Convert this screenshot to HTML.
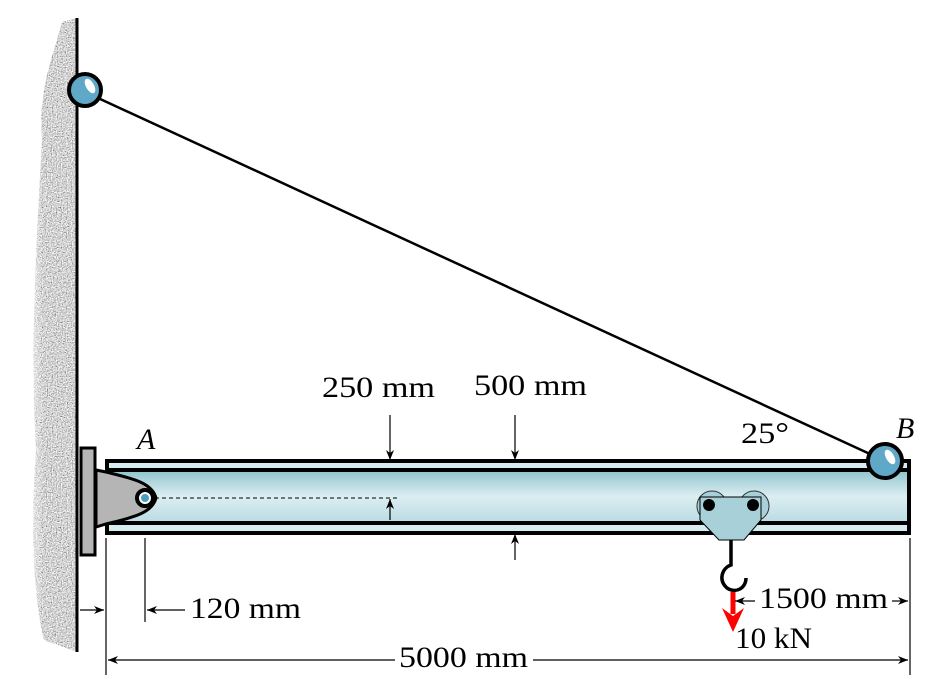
<!DOCTYPE html>
<html><head><style>body{margin:0;background:#fff}svg{display:block}text{font-family:"Liberation Serif",serif;font-size:30px;fill:#000}</style></head><body>
<svg width="928" height="688" viewBox="0 0 928 688" xmlns="http://www.w3.org/2000/svg">
<defs>
<linearGradient id="bg" x1="0" y1="0" x2="0" y2="1">
<stop offset="0" stop-color="#8ec3cd"/><stop offset="0.5" stop-color="#dceef2"/><stop offset="1" stop-color="#b9dbe2"/></linearGradient>
<linearGradient id="wg" x1="0" y1="0" x2="1" y2="0">
<stop offset="0" stop-color="#fff" stop-opacity="0.7"/><stop offset="0.3" stop-color="#fff" stop-opacity="0"/></linearGradient>
<filter id="n" x="0" y="0" width="100%" height="100%"><feTurbulence type="fractalNoise" baseFrequency="0.8" numOctaves="2" seed="3"/><feColorMatrix values="1.1 1.1 0 0 -0.45 1.1 1.1 0 0 -0.45 1.1 1.1 0 0 -0.45 0 0 0 0 1"/></filter>
<clipPath id="wc"><path d="M77,18 L62,22 C52,60 38,90 42,140 C36,250 30,350 36,450 C30,530 34,600 44,640 L77,652Z"/></clipPath>
<marker id="ah" markerWidth="10" markerHeight="8" refX="10" refY="4" orient="auto" markerUnits="userSpaceOnUse"><path d="M0,0 L10,4 L0,8 L3,4Z" fill="#000"/></marker>
</defs>
<g clip-path="url(#wc)">
<rect x="28" y="15" width="52" height="640" filter="url(#n)"/>
<rect x="28" y="15" width="52" height="640" fill="url(#wg)"/>
</g>
<line x1="77" y1="18" x2="77" y2="652" stroke="#000" stroke-width="3"/>
<line x1="85" y1="92" x2="883" y2="460" stroke="#000" stroke-width="2.5"/>
<rect x="107" y="461" width="802" height="72" fill="#d6ecf0" stroke="#000" stroke-width="4"/>
<rect x="107" y="470" width="802" height="53" fill="url(#bg)" stroke="#000" stroke-width="4"/>
<rect x="81" y="448" width="14" height="107" fill="#b5b5b5" stroke="#000" stroke-width="3"/>
<path d="M96,470 L106,472 C130,478 152,482 156,498 C152,514 130,518 106,524 L96,527Z" fill="#b5b5b5" stroke="#000" stroke-width="3"/>
<circle cx="145" cy="498" r="8" fill="#fff" stroke="#000" stroke-width="4"/>
<circle cx="145" cy="498" r="4" fill="#4a9ec0"/>
<line x1="155" y1="498" x2="400" y2="498" stroke="#000" stroke-width="1" stroke-dasharray="4,3"/>
<circle cx="712" cy="506" r="15" fill="#a8d0d8" stroke="#333" stroke-width="1"/>
<circle cx="754" cy="506" r="15" fill="#a8d0d8" stroke="#333" stroke-width="1"/>
<path d="M700,497 L761,497 L761,520 L744,540 L719,540 L700,520Z" fill="#a8d0d8" stroke="#000" stroke-width="1"/>
<circle cx="709" cy="505" r="6" fill="#000"/><circle cx="753" cy="505" r="6" fill="#000"/>
<path d="M731,540 L731,565 C722,568 718,580 727,588 C736,594 746,588 746,578" fill="none" stroke="#000" stroke-width="3.5"/>
<line x1="733" y1="592" x2="733" y2="614" stroke="#f00" stroke-width="5"/>
<path d="M722,608 L733,632 L744,608 L733,616Z" fill="#f00"/>
<circle cx="85" cy="90" r="16" fill="#5fa8c8" stroke="#000" stroke-width="4"/>
<ellipse cx="90" cy="86" rx="4" ry="8" fill="#fff" transform="rotate(-30 90 86)"/>
<circle cx="885" cy="461" r="17" fill="#5fa8c8" stroke="#000" stroke-width="4"/>
<ellipse cx="890" cy="457" rx="4" ry="8" fill="#fff" transform="rotate(-30 890 457)"/>
<g stroke="#000" stroke-width="1.2" fill="none">
<line x1="390" y1="415" x2="390" y2="460" marker-end="url(#ah)"/>
<line x1="515" y1="415" x2="515" y2="460" marker-end="url(#ah)"/>
<line x1="515" y1="560" x2="515" y2="534" marker-end="url(#ah)"/>
<line x1="390" y1="520" x2="390" y2="499" marker-end="url(#ah)"/>
<line x1="106" y1="538" x2="106" y2="675"/>
<line x1="145" y1="538" x2="145" y2="622"/>
<line x1="910" y1="538" x2="910" y2="675"/>
<line x1="80" y1="610" x2="104" y2="610" marker-end="url(#ah)"/>
<line x1="185" y1="610" x2="147" y2="610" marker-end="url(#ah)"/>
<line x1="755" y1="601" x2="735" y2="601" marker-end="url(#ah)"/>
<line x1="892" y1="601" x2="908" y2="601" marker-end="url(#ah)"/>
<line x1="395" y1="660" x2="108" y2="660" marker-end="url(#ah)"/>
<line x1="533" y1="660" x2="908" y2="660" marker-end="url(#ah)"/>
</g>
<text x="322" y="397" textLength="113" lengthAdjust="spacingAndGlyphs">250 mm</text>
<text x="474" y="395" textLength="113" lengthAdjust="spacingAndGlyphs">500 mm</text>
<text x="741" y="443" textLength="48" lengthAdjust="spacingAndGlyphs">25°</text>
<text x="137" y="449" font-style="italic" font-size="31">A</text>
<text x="896" y="438" font-style="italic" font-size="31">B</text>
<text x="190" y="618" textLength="111" lengthAdjust="spacingAndGlyphs">120 mm</text>
<text x="759" y="608" textLength="129" lengthAdjust="spacingAndGlyphs">1500 mm</text>
<text x="735" y="648" textLength="77" lengthAdjust="spacingAndGlyphs">10 kN</text>
<text x="399" y="667" textLength="129" lengthAdjust="spacingAndGlyphs">5000 mm</text>
</svg>
</body></html>
